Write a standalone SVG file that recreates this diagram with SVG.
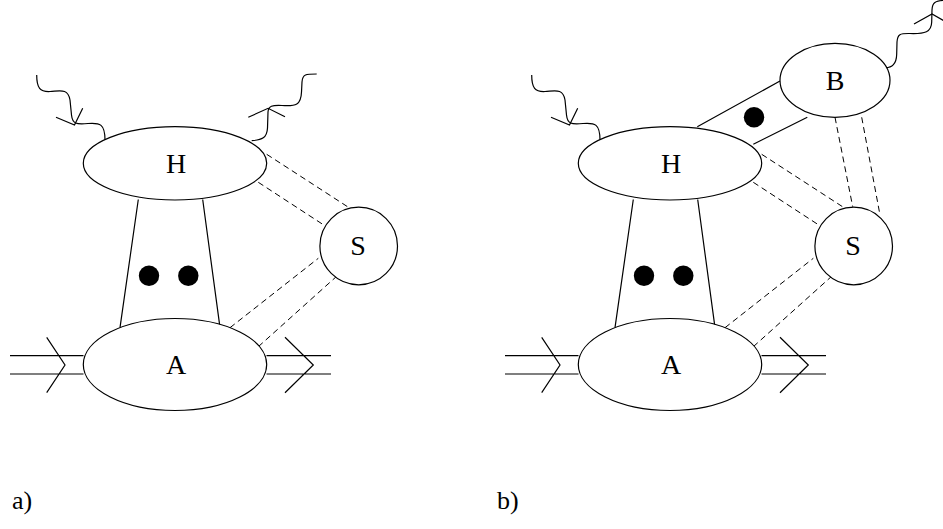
<svg xmlns="http://www.w3.org/2000/svg" width="943" height="529" viewBox="0 0 943 529">
<style>
.sh{fill:#fff;stroke:#000;stroke-width:1.2}
.ln{fill:none;stroke:#000;stroke-width:1.2}
.ds{fill:none;stroke:#000;stroke-width:1;stroke-dasharray:6,4}
.dot{fill:#000}
.lb{font-family:"Liberation Serif","Times New Roman",serif;font-size:28px;fill:#000;text-anchor:middle}
.cap{font-family:"Liberation Serif","Times New Roman",serif;font-size:26px;fill:#000}
</style>
<rect width="943" height="529" fill="#fff"/>
<defs>
<g id="wIn"><path class="ln" d="M36.7,75 C36.7,88 40,92 50,91.5 C60,91 68,88 70,100 L71.5,115 C72.5,124 76,124.5 88,123.5 C100,122.5 105,124 105,140"/><path class="ln" d="M56,117.3 L74.5,125 L82.7,108.3"/></g>
<g id="wOut"><path class="ln" d="M251.7,140.7 C262,140 267,138 267.5,128 L268,112 C268.5,106 272,105 282,105.5 C296,106.5 301,105 301.5,92 L302,82 C302.5,74 306,74 316.7,74"/><path class="ln" d="M248.3,117.3 L268.1,108.3 L285,116.7"/></g>
<g id="arrowsLR"><path class="ln" d="M10,355.7 H83.5 M10,374 H83.5 M46.7,337.3 L65,365 L46.7,392.7"/><path class="ln" d="M266.5,355.7 H331 M266.5,374 H331 M285,337.3 L313.3,365 L285,392.7"/></g>
</defs>
<g id="connectors">
<use href="#wIn"/>
<use href="#wOut"/>
<use href="#arrowsLR"/>
<path class="ln" d="M138.3,199.5 L120,327.7 M202.7,199.5 L220,327.7"/>
<path class="ds" d="M266.7,154.3 L348,207 M258.3,182.3 L323,224.5 M230,327.7 L318.3,258.3 M258.3,346.7 L340,273.3"/>
<use href="#wIn" transform="translate(495,0)"/>
<use href="#arrowsLR" transform="translate(495,0)"/>
<path class="ln" d="M633.3,199.5 L615,327.7 M697.7,199.5 L715,327.7"/>
<path class="ds" d="M761.7,154.3 L843,207 M753.3,182.3 L818,224.5 M725,327.7 L813.3,258.3 M753.3,346.7 L835,273.3"/>
<path class="ds" d="M835,117.3 L852.7,206.7 M861.7,117.3 L880,215"/>
<path class="ln" d="M697.3,126.7 L780,81 M753.3,144.3 L807.3,117.3"/>
<path class="ln" d="M885,67.7 C892,68 896.5,64 896.7,54 L897,42 C897.5,34 900,33.3 910,33.5 C925,34 931.5,32 931.7,22 L932,10 C932.3,3 935,1 943,0.5"/>
<path class="ln" d="M914,24 L932,14 L946,22"/>
</g>
<g id="a_H"><ellipse class="sh" cx="175" cy="163.3" rx="91.7" ry="36.7"/><text class="lb" x="176" y="172.5">H</text></g>
<g id="a_A"><ellipse class="sh" cx="175" cy="364.5" rx="91.7" ry="46"/><text class="lb" x="176" y="374">A</text></g>
<g id="a_S"><circle class="sh" cx="358.7" cy="246" r="38.8"/><text class="lb" x="358" y="255">S</text></g>
<g id="a_dots"><circle class="dot" cx="149" cy="275.7" r="10.2"/><circle class="dot" cx="188.3" cy="275.7" r="10.2"/></g>
<g id="b_H"><ellipse class="sh" cx="670" cy="163.3" rx="91.7" ry="36.7"/><text class="lb" x="671" y="172.5">H</text></g>
<g id="b_A"><ellipse class="sh" cx="670" cy="364.5" rx="91.7" ry="46"/><text class="lb" x="671" y="374">A</text></g>
<g id="b_S"><circle class="sh" cx="853.7" cy="246" r="38.8"/><text class="lb" x="853" y="255">S</text></g>
<g id="b_B"><ellipse class="sh" cx="835" cy="80.3" rx="55" ry="37"/><text class="lb" x="835" y="89.5">B</text></g>
<g id="b_dots"><circle class="dot" cx="644" cy="275.7" r="10.2"/><circle class="dot" cx="683.3" cy="275.7" r="10.2"/><circle class="dot" cx="754" cy="117.3" r="10.2"/></g>
<g id="a_label"><text class="cap" x="12" y="509">a)</text></g>
<g id="b_label"><text class="cap" x="497" y="509">b)</text></g>
</svg>
